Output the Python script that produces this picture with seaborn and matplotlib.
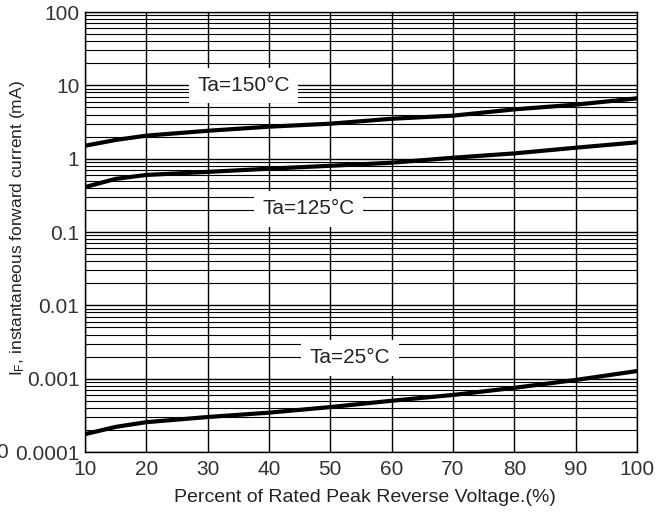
import numpy as np
import pandas as pd
import matplotlib
matplotlib.use("Agg")
import matplotlib.pyplot as plt
import seaborn as sns
from matplotlib.ticker import FixedLocator, FixedFormatter, LogLocator, NullFormatter

# ---- data ----
x_pct = [10, 15, 20, 30, 40, 50, 60, 70, 80, 90, 100]
i_150 = [1.5, 1.8, 2.06, 2.4, 2.73, 3.0, 3.5, 3.86, 4.7, 5.45, 6.65]
i_125 = [0.41, 0.53, 0.60, 0.66, 0.73, 0.80, 0.88, 1.03, 1.18, 1.41, 1.67]
i_25 = [1.75e-4, 2.2e-4, 2.55e-4, 3.0e-4, 3.44e-4, 4.1e-4, 5.0e-4, 6.0e-4, 7.5e-4, 9.6e-4, 1.27e-3]

x_ticks = [10, 20, 30, 40, 50, 60, 70, 80, 90, 100]
y_ticks = [1e-4, 1e-3, 1e-2, 1e-1, 1, 10, 100]
y_tick_labels = ["0.0001", "0.001", "0.01", "0.1", "1", "10", "100"]

series_labels = ["Ta=150°C", "Ta=125°C", "Ta=25°C"]
label_pos = [(35.9, 10.0), (46.5, 0.208), (53.2, 0.00192)]

sns.set_style("white")
plt.rcParams['font.family'] = ['Liberation Sans', 'DejaVu Sans']
plt.rcParams['mathtext.default'] = 'regular'

df = pd.DataFrame({
    "x": x_pct * 3,
    "y": i_150 + i_125 + i_25,
    "series": [series_labels[0]] * len(x_pct) + [series_labels[1]] * len(x_pct) + [series_labels[2]] * len(x_pct),
})

fig = plt.figure(figsize=(6.61, 5.17), dpi=100)
ax = fig.add_axes([85 / 661, 65 / 517, (637 - 85) / 661, (452 - 12) / 517])

ax.set_yscale("log")
ax.set_xlim(10, 100)
ax.set_ylim(1e-4, 100)

# grid
ax.xaxis.set_major_locator(FixedLocator(x_ticks))
ax.xaxis.set_major_formatter(FixedFormatter([str(v) for v in x_ticks]))
ax.yaxis.set_major_locator(FixedLocator(y_ticks))
ax.yaxis.set_major_formatter(FixedFormatter(y_tick_labels))
ax.yaxis.set_minor_locator(LogLocator(base=10, subs=np.arange(2, 10), numticks=20))
ax.yaxis.set_minor_formatter(NullFormatter())
ax.grid(True, which="major", axis="both", color="black", linewidth=1.0)
ax.grid(True, which="minor", axis="y", color="black", linewidth=0.8)
ax.set_axisbelow(True)

sns.lineplot(data=df, x="x", y="y", hue="series", units="series", estimator=None,
             palette=["black", "black", "black"], linewidth=3.0, legend=False, ax=ax)

for lab, (lx, ly) in zip(series_labels, label_pos):
    ax.text(lx, ly, lab, ha="center", va="center", fontsize=15, color="#222222",
            bbox=dict(boxstyle="square,pad=0.4", facecolor="white", edgecolor="none"), zorder=5)

for s in ax.spines.values():
    s.set_color("black")
    s.set_linewidth(1.0)

ax.tick_params(axis="both", which="major", direction="out", length=3, width=1,
               labelsize=15, labelcolor="#333333", color="black")
ax.tick_params(axis="y", which="major", pad=1)
ax.tick_params(axis="x", which="major", pad=3)
ax.tick_params(axis="y", which="minor", length=0)

ax.set_xlabel("Percent of Rated Peak Reverse Voltage.(%)", fontsize=14, color="#222222")
ax.set_ylabel("$I_F$, instantaneous forward current (mA)", fontsize=12.5, color="#222222")
ax.xaxis.set_label_coords((364.5 - 85) / 552, (452 - 497) / 440)
ax.yaxis.set_label_coords((18 - 85) / 552, (452 - 228) / 440)
ax.xaxis.label.set_va("center")
ax.yaxis.label.set_va("center")

fig.text(8 / 661, 1 - 452 / 517, "0", ha="right", va="center", fontsize=15, color="#333333")

fig.savefig("out.png", dpi=100)
